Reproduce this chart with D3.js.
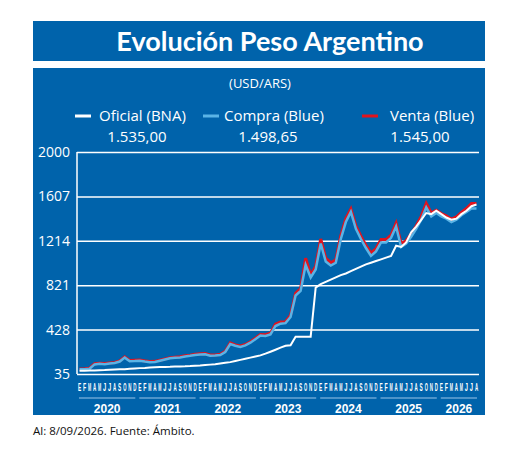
<!DOCTYPE html>
<html><head><meta charset="utf-8">
<script src="https://cdn.jsdelivr.net/npm/d3@7"></script>
<style>body{margin:0;background:#fff}</style>
</head><body>
<svg id="chart" width="520" height="458"></svg>
<script>
// monthly data, Jan 2020 - Aug 2026
const years = [2020, 2021, 2022, 2023, 2024, 2025, 2026];
const monthLetters = ["E","F","M","A","M","J","J","A","S","O","N","D"];
const yTicks = [35, 428, 821, 1214, 1607, 2000];
const oficial = [
  63,64,65,67,69,70,72,74,76,78,81,84,
  87,89,92,94,96,98,99,101,102,103,105,108,
  110,114,118,122,128,134,140,150,160,170,180,190,
  200,215,232,250,268,285,290,365,365,365,365,800,
  830,850,870,890,910,925,945,965,985,1005,1020,1035,
  1050,1065,1080,1170,1160,1200,1290,1340,1400,1460,1450,1480,
  1450,1420,1400,1410,1450,1480,1520,1535];
const compra = [
  76,78,82,120,125,122,127,132,145,180,148,150,
  153,146,140,142,152,163,174,178,182,190,196,204,
  208,210,197,198,203,230,300,285,275,288,312,343,
  375,372,385,460,480,485,540,730,770,1000,890,960,
  1190,1030,995,1020,1230,1380,1470,1320,1230,1150,1080,1120,
  1200,1200,1240,1340,1160,1190,1250,1320,1400,1510,1430,1460,
  1430,1410,1380,1400,1440,1470,1500,1499];
const venta = [
  80,82,86,126,130,127,132,137,150,187,154,156,
  158,151,145,147,157,168,180,184,188,196,202,210,
  214,216,203,204,209,237,310,293,283,296,320,352,
  385,382,396,475,495,498,555,750,790,1060,910,990,
  1230,1060,1020,1045,1260,1410,1495,1345,1255,1175,1105,1145,
  1225,1225,1265,1370,1190,1215,1275,1345,1430,1545,1460,1485,
  1455,1435,1405,1425,1465,1500,1545,1545];
const legend = [
  {name: "Oficial (BNA)", value: "1.535,00", color: "#ffffff", mx: 75, tx: 99, vx: 137},
  {name: "Compra (Blue)", value: "1.498,65", color: "#5ab4e6", mx: 203, tx: 224, vx: 268},
  {name: "Venta (Blue)", value: "1.545,00", color: "#e0141e", mx: 362, tx: 390, vx: 420}];

const blue = "#0063ab";
const svg = d3.select("#chart");
const font = "'Open Sans', sans-serif";

svg.append("rect").attr("x", 33).attr("y", 21).attr("width", 452).attr("height", 40).attr("fill", blue);
svg.append("text").attr("x", 270).attr("y", 51).attr("text-anchor", "middle")
  .attr("fill", "#fff").attr("font-family", "Lato, sans-serif").attr("font-weight", "bold")
  .attr("font-size", 27).text("Evolución Peso Argentino");
svg.append("rect").attr("x", 33).attr("y", 68).attr("width", 452).attr("height", 347).attr("fill", blue);
svg.append("text").attr("x", 260).attr("y", 88).attr("text-anchor", "middle")
  .attr("fill", "#fff").attr("font-family", font).attr("font-size", 13).text("(USD/ARS)");

// legend
const lg = svg.append("g").attr("font-family", font).attr("fill", "#fff").attr("font-size", 15);
legend.forEach(d => {
  lg.append("line").attr("x1", d.mx).attr("x2", d.mx + 16).attr("y1", 116).attr("y2", 116)
    .attr("stroke", d.color).attr("stroke-width", 3);
  lg.append("text").attr("x", d.tx).attr("y", 121).text(d.name);
  lg.append("text").attr("x", d.vx).attr("y", 142).attr("text-anchor", "middle").text(d.value);
});

const x = d3.scaleLinear().domain([0, compra.length]).range([77, 479]);
const y = d3.scaleLinear().domain([35, 2000]).range([374, 152]);

// grid
const yAxis = d3.axisLeft(y).tickValues(yTicks).tickFormat(d3.format("d"))
  .tickSize(-(479 - 77)).tickPadding(7);
const ga = svg.append("g").attr("transform", "translate(77,0)").call(yAxis);
ga.select(".domain").remove();
ga.selectAll("line").attr("stroke", "#fff").attr("stroke-width", 1.5);
ga.selectAll("text").attr("fill", "#fff").attr("font-family", font).attr("font-size", 14);
svg.append("line").attr("x1", 77).attr("x2", 77).attr("y1", 152).attr("y2", 374)
  .attr("stroke", "#fff").attr("stroke-width", 1.5);

const line = d3.line().x((d, i) => x(i + 0.5)).y(d => y(d));
svg.append("path").datum(venta).attr("d", line).attr("fill", "none")
  .attr("stroke", "#e0141e").attr("stroke-width", 3);
svg.append("path").datum(compra).attr("d", line).attr("fill", "none")
  .attr("stroke", "#5ab4e6").attr("stroke-width", 2.5);
svg.append("path").datum(oficial).attr("d", line).attr("fill", "none")
  .attr("stroke", "#fff").attr("stroke-width", 2);

// month letters
const months = d3.range(compra.length);
svg.append("g").selectAll("text").data(months).join("text")
  .attr("x", i => x(i + 0.5) - 1.6).attr("y", 391)
  .attr("textLength", 3.2).attr("lengthAdjust", "spacingAndGlyphs")
  .attr("fill", "#fff").attr("font-family", "'Liberation Sans Narrow', sans-serif")
  .attr("font-size", 10).attr("font-weight", "bold")
  .text(i => monthLetters[i % 12]);

// years
const yg = svg.append("g");
years.forEach((yr, k) => {
  const s = k * 12, e = Math.min(s + 12, compra.length);
  yg.append("line").attr("x1", x(s) + 2).attr("x2", x(e) - 2).attr("y1", 398).attr("y2", 398)
    .attr("stroke", "#9cc6e8").attr("stroke-width", 1);
  yg.append("text").attr("x", (x(s) + x(e)) / 2).attr("y", 413).attr("text-anchor", "middle")
    .attr("fill", "#fff").attr("font-family", "'Liberation Sans Narrow', sans-serif")
    .attr("font-weight", "bold").attr("font-size", 12).text(yr);
});

svg.append("text").attr("x", 33).attr("y", 435).attr("font-family", font).attr("font-size", 11.5)
  .attr("fill", "#111").text("Al: 8/09/2026. Fuente: Ámbito.");
</script>
</body></html>
